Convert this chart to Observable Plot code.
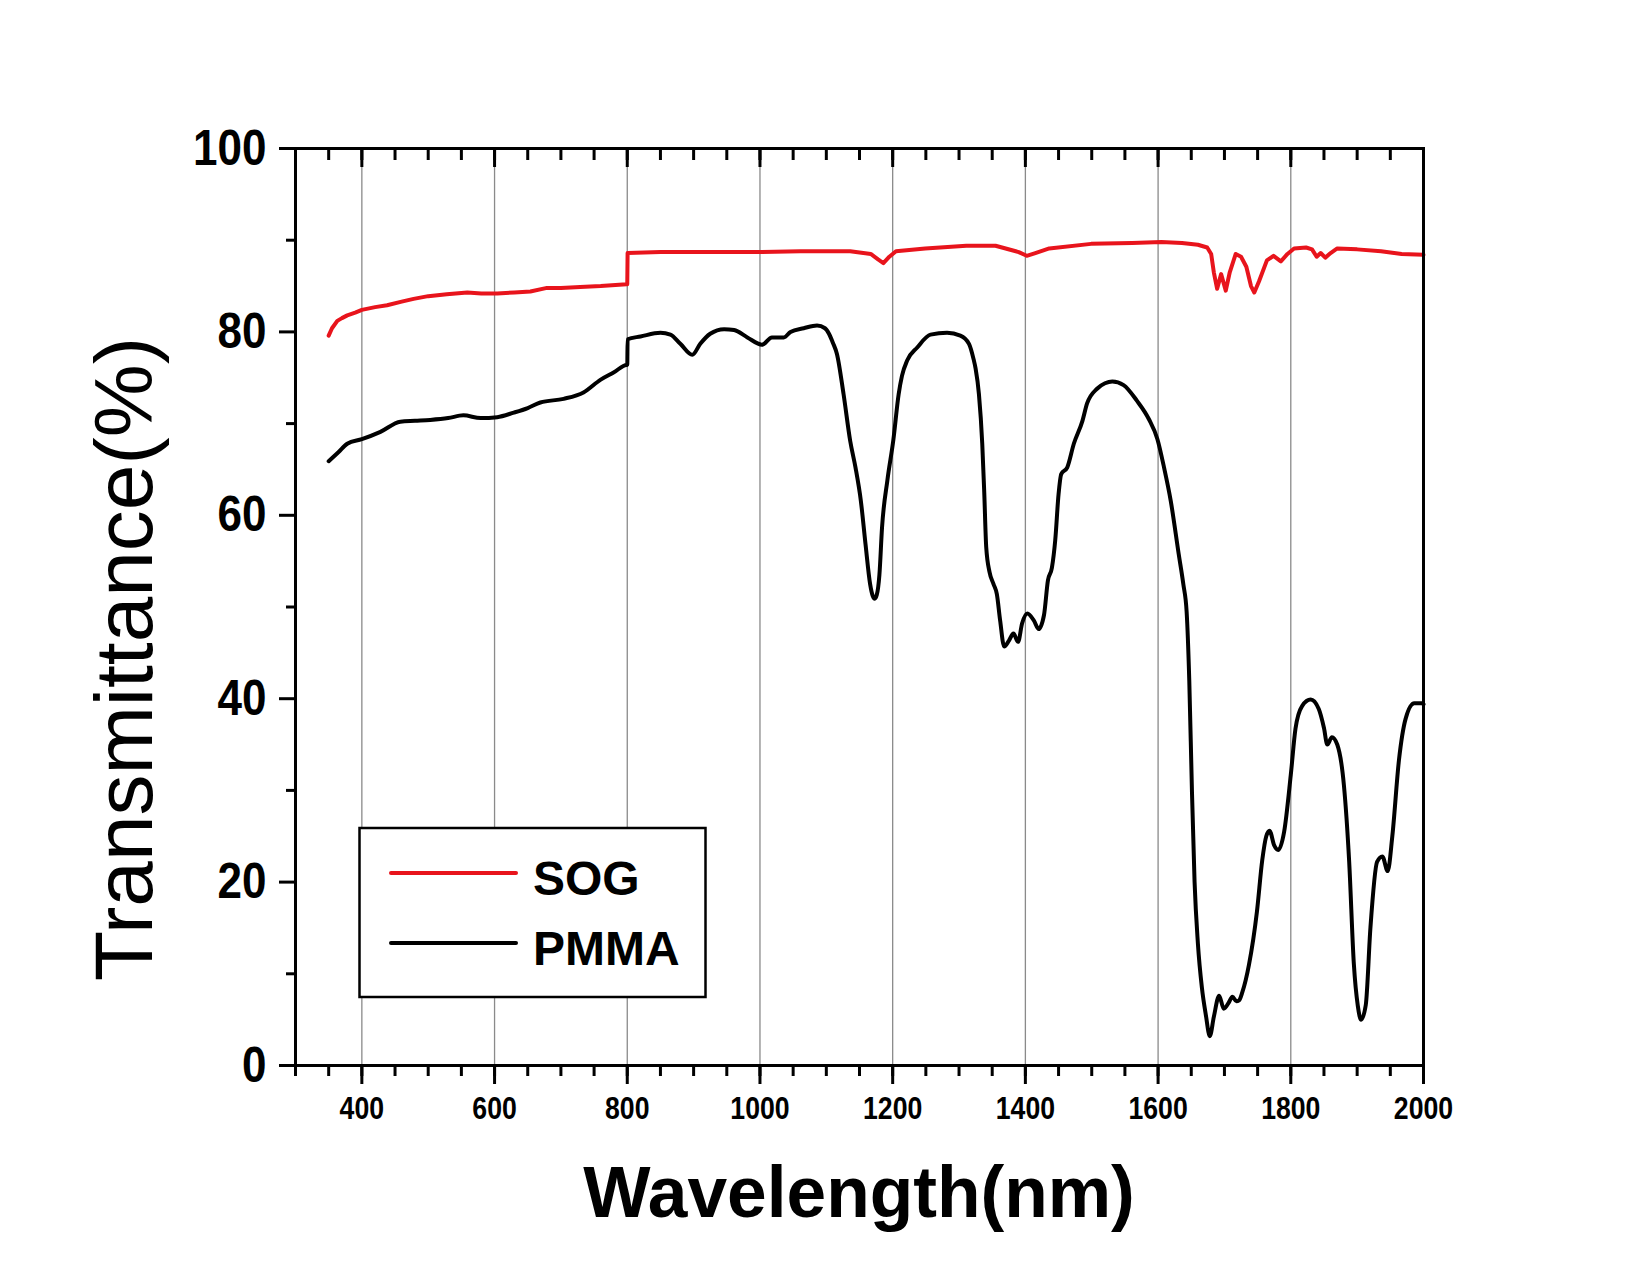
<!DOCTYPE html>
<html>
<head>
<meta charset="utf-8">
<script src="https://cdn.jsdelivr.net/npm/d3@7"></script>
<script src="https://cdn.jsdelivr.net/npm/@observablehq/plot@0.6"></script>
<style>
  html, body { margin: 0; padding: 0; background: #fff; }
  #chart svg { display: block; }
</style>
</head>
<body>
<div id="chart"></div>
<script>
// ---------------- data ----------------
const seriesNames = ["SOG", "PMMA"];
const seriesColors = ["#e8141c", "#000000"];

const sogWavelength = [350, 355, 363, 370, 378, 390, 400, 420, 438, 460, 478, 500, 528, 559, 580, 604, 630, 654, 679, 700, 729, 760, 799,
  800.5, 850, 900, 950, 1000, 1061, 1136, 1167, 1178, 1186, 1195, 1205, 1249, 1311, 1355, 1380, 1390, 1402, 1415, 1436, 1499, 1561,
  1605, 1636, 1660, 1674, 1680, 1684, 1689, 1695, 1702, 1708, 1717, 1725, 1733, 1740, 1745, 1752, 1764, 1774, 1785, 1795, 1805,
  1823, 1832, 1839, 1845, 1852, 1860, 1870, 1900, 1936, 1967, 2000];
const sogT = [79.6, 80.4, 81.2, 81.5, 81.8, 82.1, 82.4, 82.7, 82.9, 83.3, 83.6, 83.9, 84.1, 84.3, 84.2, 84.2, 84.3, 84.4, 84.8, 84.8, 84.9, 85.0, 85.2,
  88.6, 88.7, 88.7, 88.7, 88.7, 88.8, 88.8, 88.5, 87.9, 87.5, 88.2, 88.8, 89.1, 89.4, 89.4, 88.9, 88.7, 88.3, 88.6, 89.1, 89.6, 89.7,
  89.8, 89.7, 89.5, 89.2, 88.5, 86.5, 84.7, 86.3, 84.5, 86.5, 88.5, 88.2, 87.1, 85.0, 84.3, 85.5, 87.8, 88.3, 87.7, 88.5, 89.1,
  89.2, 89.0, 88.2, 88.6, 88.1, 88.6, 89.1, 89.0, 88.8, 88.5, 88.4];

const pmmaWavelength = [350, 365, 378, 400, 428, 458, 480, 503, 530, 553, 579, 604, 629, 650, 669, 704, 734, 760, 780, 799,
  800.5, 820, 850, 865, 880, 898, 910, 925, 946, 961, 981, 1003, 1018, 1036, 1046, 1066, 1086, 1098, 1104, 1110, 1116, 1126,
  1136, 1144, 1152, 1159, 1166, 1170, 1173, 1176, 1180, 1184, 1192, 1201, 1209, 1214, 1222, 1237, 1257, 1282, 1302, 1315,
  1322, 1325, 1330, 1335, 1338, 1341, 1346, 1352, 1357, 1362, 1368, 1375, 1382, 1389, 1395, 1403, 1413, 1420, 1428, 1434,
  1440, 1445, 1450, 1454, 1463, 1473, 1486, 1493, 1508, 1520, 1531, 1548, 1568, 1586, 1599, 1609, 1619, 1631, 1638, 1643,
  1647, 1651, 1655, 1660, 1666, 1672, 1678, 1684, 1692, 1699, 1706, 1712, 1718, 1722, 1727, 1737, 1749, 1757, 1763, 1768,
  1775, 1781, 1790, 1800, 1807, 1817, 1830, 1842, 1850, 1855, 1862, 1870, 1880, 1888, 1895, 1901, 1906, 1913, 1920, 1930,
  1938, 1946, 1953, 1963, 1973, 1986, 1998, 2000];
const pmmaT = [65.9, 66.9, 67.8, 68.3, 69.1, 70.2, 70.3, 70.4, 70.6, 70.9, 70.6, 70.7, 71.2, 71.7, 72.3, 72.7, 73.4, 74.8, 75.6, 76.4,
  79.2, 79.5, 79.9, 79.7, 78.7, 77.5, 78.7, 79.8, 80.3, 80.2, 79.4, 78.6, 79.4, 79.4, 80.0, 80.4, 80.7, 80.4, 79.8, 78.8, 77.6, 73.2,
  68.1, 65.2, 61.6, 56.9, 52.5, 51.2, 50.9, 51.3, 53.5, 58.7, 63.8, 68.2, 73.2, 75.2, 76.9, 78.3, 79.7, 79.9, 79.6, 78.7,
  77.0, 76.0, 73.2, 67.8, 62.5, 56.5, 53.8, 52.5, 51.4, 48.5, 45.7, 46.3, 47.1, 46.2, 48.2, 49.3, 48.5, 47.6, 49.1, 52.9,
  54.3, 57.3, 62.3, 64.5, 65.2, 67.8, 70.3, 72.2, 73.8, 74.4, 74.6, 74.2, 72.5, 70.5, 68.3, 65.2, 61.6, 55.8, 52.5, 49.5,
  42.0, 30.0, 20.0, 13.3, 8.5, 5.5, 3.2, 5.3, 7.6, 6.2, 6.8, 7.5, 7.0, 7.1, 8.0, 11.0, 16.8, 22.4, 25.0, 25.6,
  24.0, 23.5, 25.5, 31.7, 36.7, 39.2, 39.9, 38.9, 36.8, 35.0, 35.8, 35.0, 30.6, 22.2, 11.1, 6.5, 5.0, 6.6, 15.0, 22.2,
  22.8, 21.2, 25.0, 33.3, 37.8, 39.5, 39.5, 39.4];

const xTickLabels = [400, 600, 800, 1000, 1200, 1400, 1600, 1800, 2000];
const xGridTicks = [400, 600, 800, 1000, 1200, 1400, 1600, 1800];
const xMinorTicks = d3.range(300, 2001, 50);
const yTickLabels = [0, 20, 40, 60, 80, 100];
const yMinorTicks = [10, 30, 50, 70, 90];

const xTitle = "Wavelength(nm)";
const yTitle = "Transmittance(%)";

// ---------------- layout ----------------
const W = 1650, H = 1275;
const mL = 295, mR = 227, mT = 148, mB = 210;
const frameH = H - mT - mB;
const FONT = "'Liberation Sans', Arial, Helvetica, sans-serif";

const sog = sogWavelength.map((x, i) => ({x, y: sogT[i]}));
const pmma = pmmaWavelength.map((x, i) => ({x, y: pmmaT[i]}));
// the step at 800 nm (detector change)
sog.splice(23, 0, {x: 800, y: sogT[22]});
pmma.splice(20, 0, {x: 800, y: pmmaT[19]});

const plot = Plot.plot({
  width: W, height: H,
  marginLeft: mL, marginRight: mR, marginTop: mT, marginBottom: mB,
  style: {background: "white", fontFamily: FONT, color: "black", overflow: "visible"},
  x: {domain: [300, 2000]},
  y: {domain: [0, 100]},
  marks: [
    Plot.gridX({ticks: xGridTicks, stroke: "#8a8a8a", strokeOpacity: 1, strokeWidth: 1.3}),
    Plot.line(sog, {x: "x", y: "y", stroke: seriesColors[0], strokeWidth: 4, curve: "linear"}),
    Plot.line(pmma, {x: "x", y: "y", stroke: seriesColors[1], strokeWidth: 4, curve: "monotone-x"}),
    // top inward ticks
    Plot.tickX(xMinorTicks, {x: d => d, insetBottom: frameH - 12, stroke: "black", strokeWidth: 3}),
    Plot.tickX(xGridTicks, {x: d => d, insetBottom: frameH - 19, stroke: "black", strokeWidth: 3}),
    Plot.frame({stroke: "black", strokeWidth: 3}),
    Plot.axisX({ticks: xMinorTicks, tickSize: 11, tickFormat: () => "", strokeWidth: 3, label: null}),
    Plot.axisX({ticks: xTickLabels, tickSize: 19, tickPadding: 12, tickFormat: d => String(d),
      fontSize: 31, fontWeight: "bold", strokeWidth: 3, label: null}),
    Plot.axisY({ticks: yMinorTicks, tickSize: 9, tickFormat: () => "", strokeWidth: 3, label: null}),
    Plot.axisY({ticks: yTickLabels, tickSize: 16, tickPadding: 13, tickFormat: d => String(d),
      fontSize: 50, fontWeight: "bold", strokeWidth: 3, label: null})
  ]
});

document.getElementById("chart").appendChild(plot);
const svg = d3.select(plot);

function condense(sel, k) {
  sel.each(function () {
    const t = this.getAttribute("transform");
    if (t) this.setAttribute("transform", t + ` scale(${k},1)`);
    else {
      const x = +this.getAttribute("x") || 0, y = +this.getAttribute("y") || 0;
      this.setAttribute("x", 0); this.setAttribute("y", 0);
      this.setAttribute("transform", `translate(${x},${y}) scale(${k},1)`);
    }
  });
}
condense(svg.selectAll('g[aria-label="x-axis tick label"] text'), 0.86);
condense(svg.selectAll('g[aria-label="y-axis tick label"] text'), 0.88);

// axis titles
svg.append("text")
  .attr("transform", "translate(859,1217) scale(0.99,1)")
  .attr("text-anchor", "middle")
  .attr("font-family", FONT).attr("font-size", 72).attr("font-weight", "bold")
  .attr("fill", "black")
  .text(xTitle);

svg.append("text")
  .attr("transform", "translate(152,659) rotate(-90)")
  .attr("text-anchor", "middle")
  .attr("font-family", FONT).attr("font-size", 82).attr("font-weight", "normal")
  .attr("fill", "black")
  .text(yTitle);

// legend
const lg = svg.append("g");
lg.append("rect").attr("x", 359.5).attr("y", 828).attr("width", 346).attr("height", 169)
  .attr("fill", "white").attr("stroke", "black").attr("stroke-width", 2.5);
seriesNames.forEach((name, i) => {
  const y = 873 + i * 70;
  lg.append("line").attr("x1", 391).attr("x2", 516).attr("y1", y).attr("y2", y)
    .attr("stroke", seriesColors[i]).attr("stroke-width", 4).attr("stroke-linecap", "round");
  lg.append("text").attr("x", 533).attr("y", y + 22)
    .attr("text-anchor", "start")
    .attr("font-family", FONT).attr("font-size", 48).attr("font-weight", "bold")
    .attr("fill", "black").text(name);
});
</script>
</body>
</html>
